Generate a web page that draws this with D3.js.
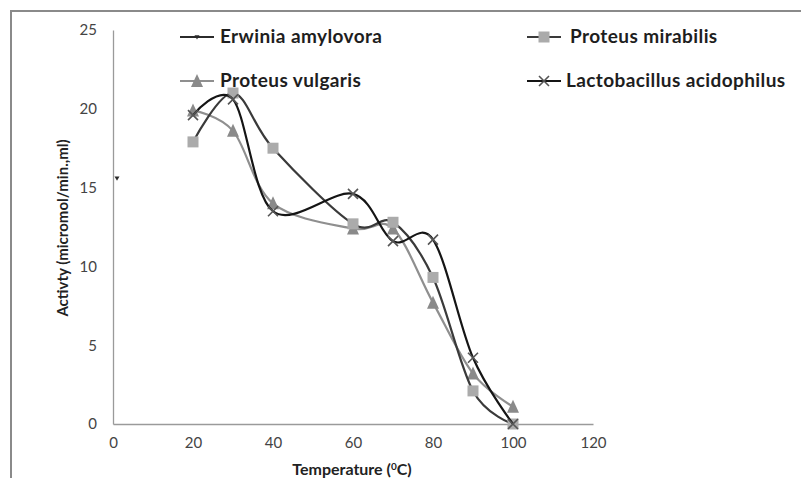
<!DOCTYPE html>
<html>
<head>
<meta charset="utf-8">
<script src="https://cdn.jsdelivr.net/npm/d3@7"></script>
<style>
  html, body { margin: 0; padding: 0; background: #fff; }
  svg { display: block; }
  text { font-family: Lato, "Liberation Sans", sans-serif; }
</style>
</head>
<body>
<div id="chart"></div>
<script>
// temperatures (deg C) where activity was measured
var temps = [20, 30, 40, 60, 70, 80, 90, 100];

// activity values
var erwinia = [{ x: 1, y: 15.6 }];
var mirabilis = [17.9, 21.0, 17.5, 12.7, 12.8, 9.3, 2.1, 0];
var vulgaris = [19.9, 18.6, 14.0, 12.4, 12.4, 7.7, 3.2, 1.1];
var lacto = [19.6, 20.6, 13.5, 14.6, 11.6, 11.7, 4.2, 0];

var xTicks = [0, 20, 40, 60, 80, 100, 120];
var yTicks = [0, 5, 10, 15, 20, 25];

var W = 801, H = 478;

var svg = d3.select("#chart").append("svg")
  .attr("width", W).attr("height", H);

var x = d3.scaleLinear().domain([0, 120]).range([113, 593]);
var y = d3.scaleLinear().domain([0, 25]).range([424, 30]);

// outer frame (only top and left edges show)
svg.append("path")
  .attr("d", "M11,478V11H801")
  .attr("fill", "none")
  .attr("stroke", "#8a8a8a")
  .attr("stroke-width", 2);

// axes
var xAxis = svg.append("g").attr("transform", "translate(0," + y(0) + ")")
  .call(d3.axisBottom(x).tickValues(xTicks).tickSize(0).tickPadding(13));
var yAxis = svg.append("g").attr("transform", "translate(" + x(0) + ",0)")
  .call(d3.axisLeft(y).tickValues(yTicks).tickSize(0).tickPadding(16));

[xAxis, yAxis].forEach(function(a) {
  a.select(".domain").attr("stroke", "#9a9a9a").attr("stroke-width", 1.3);
  a.selectAll("text")
    .style("font-family", "Lato, sans-serif")
    .style("font-size", "15px")
    .attr("fill", "#444");
});

// axis titles
svg.append("text")
  .attr("x", 352).attr("y", 475)
  .attr("text-anchor", "middle")
  .style("font-size", "16px").style("font-weight", "bold")
  .attr("fill", "#222")
  .html("Temperature (<tspan dy='-5' font-size='10'>0</tspan><tspan dy='5'>C)</tspan>");

svg.append("text")
  .attr("transform", "translate(68,228) rotate(-90)")
  .attr("text-anchor", "middle")
  .style("font-size", "15px").style("font-weight", "bold")
  .attr("fill", "#222")
  .text("Activty (micromol/min.,ml)");

var toPts = function(vals) {
  return vals.map(function(v, i) { return { x: temps[i], y: v }; });
};

var line = d3.line()
  .x(function(d) { return x(d.x); })
  .y(function(d) { return y(d.y); })
  .curve(d3.curveCardinal.tension(0));

var series = [
  { name: "Erwinia amylovora", data: erwinia, line: "#2b2b2b", mark: "#2b2b2b", shape: "tri-down", size: 5 },
  { name: "Proteus mirabilis", data: toPts(mirabilis), line: "#3a3a3a", mark: "#ababab", shape: "square", size: 11 },
  { name: "Proteus vulgaris", data: toPts(vulgaris), line: "#8f8f8f", mark: "#8a8a8a", shape: "triangle", size: 12 },
  { name: "Lactobacillus acidophilus", data: toPts(lacto), line: "#151515", mark: "#555", shape: "x", size: 10 }
];

var markerPath = function(shape, s) {
  var h = s / 2;
  if (shape === "square") return "M" + -h + "," + -h + "h" + s + "v" + s + "h" + -s + "Z";
  if (shape === "triangle") return "M0," + (-h - 1) + "L" + h + "," + (h) + "L" + -h + "," + (h) + "Z";
  if (shape === "tri-down") return "M" + -h + "," + -h / 1.5 + "L" + h + "," + -h / 1.5 + "L0," + h + "Z";
  return "M" + -h + "," + -h + "L" + h + "," + h + "M" + h + "," + -h + "L" + -h + "," + h;
};

var drawMarker = function(g, s, px, py) {
  var p = g.append("path")
    .attr("transform", "translate(" + px + "," + py + ")")
    .attr("d", markerPath(s.shape, s.size));
  if (s.shape === "x") p.attr("fill", "none").attr("stroke", s.mark).attr("stroke-width", 1.6);
  else p.attr("fill", s.mark);
};

// draw order: lighter lines under darker
[2, 1, 3, 0].forEach(function(k) {
  var s = series[k];
  var g = svg.append("g");
  if (s.data.length > 1) {
    g.append("path")
      .datum(s.data)
      .attr("d", line)
      .attr("fill", "none")
      .attr("stroke", s.line)
      .attr("stroke-width", 2.2);
  }
  s.data.forEach(function(d) { drawMarker(g, s, x(d.x), y(d.y)); });
});

// legend, 2 x 2
var legendPos = [
  { lx: 180, tx: 220, y: 37 },
  { lx: 527, tx: 570, y: 37 },
  { lx: 180, tx: 220, y: 81 },
  { lx: 527, tx: 566, y: 81 }
];
series.forEach(function(s, i) {
  var p = legendPos[i];
  var g = svg.append("g");
  g.append("line")
    .attr("x1", p.lx).attr("x2", p.lx + 34)
    .attr("y1", p.y).attr("y2", p.y)
    .attr("stroke", s.line).attr("stroke-width", 2.2);
  drawMarker(g, s, p.lx + 17, p.y);
  g.append("text")
    .attr("x", p.tx).attr("y", p.y + 6)
    .style("font-size", "19px").style("font-weight", "bold")
    .style("letter-spacing", "0.4px")
    .attr("fill", "#1e1e1e")
    .text(s.name);
});
</script>
</body>
</html>
